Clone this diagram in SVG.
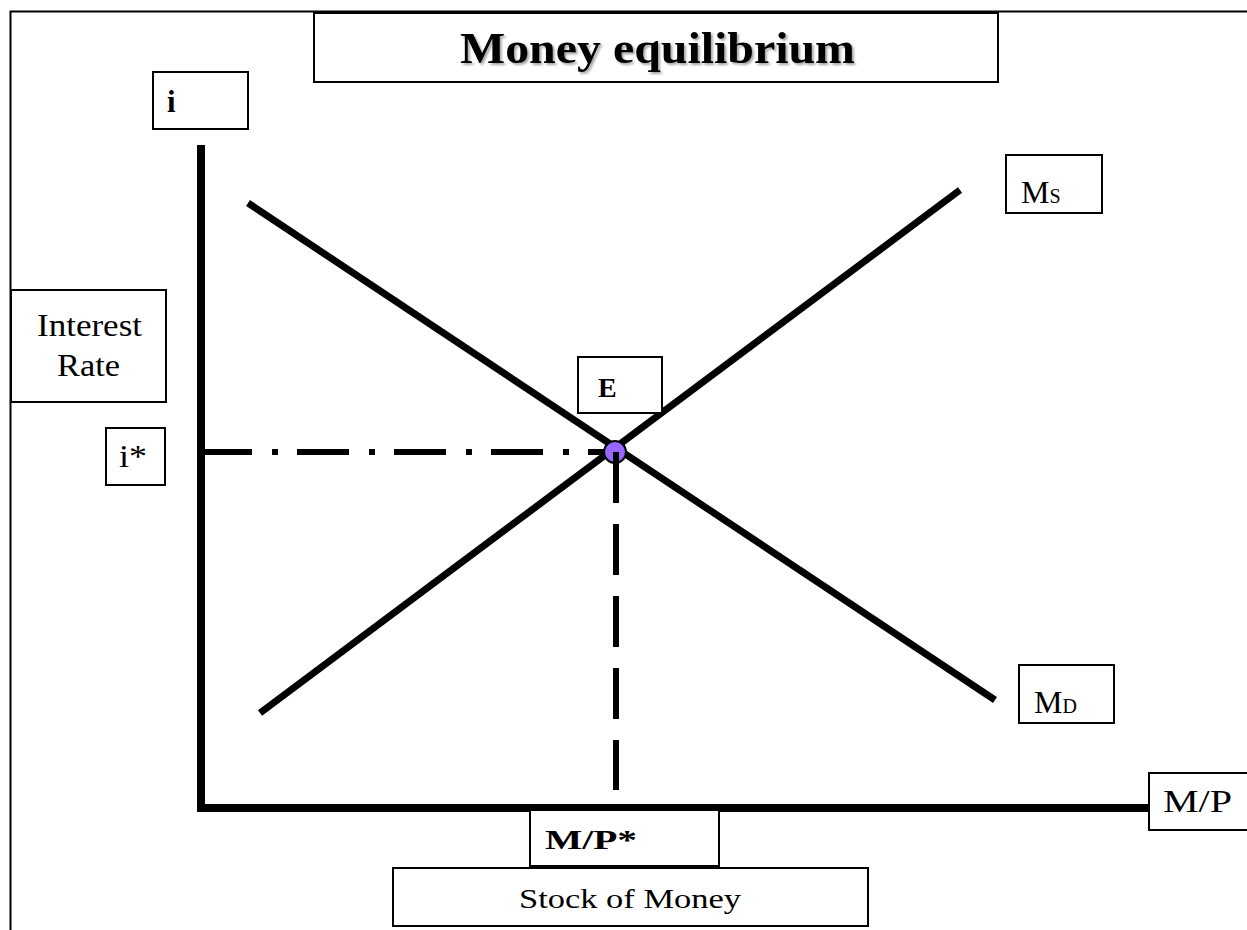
<svg xmlns="http://www.w3.org/2000/svg" width="1247" height="930" viewBox="0 0 1247 930">
<defs>
<style>
.box{fill:#fff;stroke:#000;stroke-width:2}
.t{font-family:"Liberation Serif",serif;fill:#000}
.curve{stroke:#000;stroke-width:7;fill:none}
.axis{stroke:#000;stroke-width:8;fill:none}
</style>
<filter id="sh" x="-5%" y="-20%" width="110%" height="140%">
<feGaussianBlur in="SourceAlpha" stdDeviation="1"/>
<feOffset dx="2" dy="2" result="b"/>
<feFlood flood-color="#000" flood-opacity="0.35"/>
<feComposite in2="b" operator="in"/>
<feMerge><feMergeNode/><feMergeNode in="SourceGraphic"/></feMerge>
</filter>
</defs>
<rect x="0" y="0" width="1247" height="930" fill="#fff"/>
<path d="M10.5 930 V11.5 H1247" fill="none" stroke="#000" stroke-width="2"/>

<g id="title"><rect class="box" x="314" y="13" width="684" height="69"/>
<text class="t" x="460" y="63" font-size="45" font-weight="bold" filter="url(#sh)" textLength="395" lengthAdjust="spacingAndGlyphs">Money equilibrium</text></g>

<g id="connectors">
<line class="axis" x1="201" y1="145" x2="201" y2="812"/>
<line class="axis" x1="197" y1="808" x2="1161" y2="808"/>
<line class="curve" x1="248" y1="203" x2="995" y2="700"/>
<line class="curve" x1="260" y1="713" x2="960" y2="190"/>
<line stroke="#000" stroke-width="6" x1="200" y1="452" x2="615" y2="452" stroke-dasharray="52 20 6 19"/>
<line stroke="#000" stroke-width="6" x1="616" y1="452" x2="616" y2="790" stroke-dasharray="51 21"/>
</g>

<g id="eq"><circle cx="615" cy="452" r="11" fill="#9966ff" stroke="#000" stroke-width="2"/>
<line stroke="#000" stroke-width="6" x1="616" y1="452" x2="616" y2="466"/></g>

<g id="i"><rect class="box" x="153" y="72" width="95" height="57"/>
<text class="t" x="167" y="112" font-size="31" font-weight="bold">i</text></g>

<g id="interest"><rect class="box" x="11" y="290" width="155" height="112"/>
<text class="t" x="37" y="336" font-size="32" textLength="105" lengthAdjust="spacingAndGlyphs">Interest</text>
<text class="t" x="57" y="376" font-size="32" textLength="63" lengthAdjust="spacingAndGlyphs">Rate</text></g>

<g id="istar"><rect class="box" x="106" y="428" width="59" height="57"/>
<text class="t" x="119" y="467" font-size="32" textLength="28" lengthAdjust="spacingAndGlyphs">i*</text></g>

<g id="E"><rect class="box" x="578" y="357" width="84" height="56"/>
<text class="t" x="598" y="397" font-size="28" font-weight="bold">E</text></g>

<g id="MS"><rect class="box" x="1006" y="155" width="96" height="58"/>
<text class="t" x="1021" y="203" font-size="32">M<tspan font-size="20">S</tspan></text></g>

<g id="MD"><rect class="box" x="1019" y="665" width="95" height="58"/>
<text class="t" x="1034" y="713" font-size="32">M<tspan font-size="20">D</tspan></text></g>

<g id="MP"><rect class="box" x="1149" y="773" width="100" height="57"/>
<text class="t" x="1163" y="812" font-size="32" textLength="69" lengthAdjust="spacingAndGlyphs">M/P</text></g>

<g id="MPstar"><rect class="box" x="530" y="810" width="189" height="56"/>
<text class="t" x="545" y="849" font-size="27" font-weight="bold" textLength="92" lengthAdjust="spacingAndGlyphs">M/P*</text></g>

<g id="stock"><rect class="box" x="393" y="868" width="475" height="58"/>
<text class="t" x="519" y="908" font-size="27" textLength="222" lengthAdjust="spacingAndGlyphs">Stock of Money</text></g>
</svg>
